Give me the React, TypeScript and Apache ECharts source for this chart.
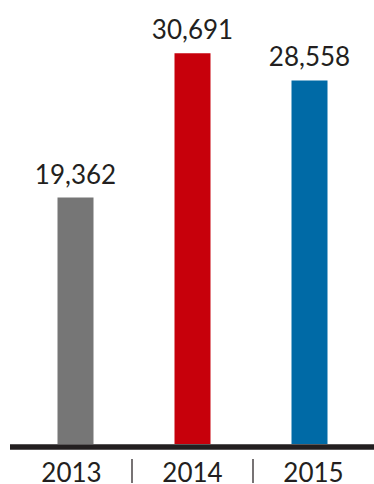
import React, { useEffect, useRef } from "react";
import * as echarts from "echarts";

const categories = ["2013", "2014", "2015"];
const values = [19362, 30691, 28558];
const barColors = ["#767676", "#c7000b", "#006aa6"];

const TEXT = "#231f20";
const FONT = "Lato, 'Noto Sans', sans-serif";

export default function App() {
  const ref = useRef<HTMLDivElement>(null);
  useEffect(() => {
    if (!ref.current) return;
    const chart = echarts.init(ref.current, null, { renderer: "svg" });
    chart.setOption({
      animation: false,
      backgroundColor: "#ffffff",
      grid: [
        { left: 17, top: 0, width: 351, height: 444, containLabel: false },
        { left: 11, top: 459, width: 365, height: 25, containLabel: false },
      ],
      xAxis: [
        {
          type: "category",
          gridIndex: 0,
          data: categories,
          axisLine: { show: false },
          axisTick: { show: false },
          axisLabel: { show: false },
        },
        {
          type: "category",
          gridIndex: 1,
          data: categories,
          position: "top",
          axisLine: { show: false },
          axisTick: { show: false },
          axisLabel: {
            show: true,
            inside: true,
            margin: 0,
            fontSize: 26,
            fontFamily: FONT,
            color: TEXT,
          },
          splitLine: {
            show: true,
            showMinLine: false,
            showMaxLine: false,
            lineStyle: { color: "#4a4546", width: 1.5 },
          },
        },
      ],
      yAxis: [
        { type: "value", gridIndex: 0, min: 0, max: 34880, show: false },
        { type: "value", gridIndex: 1, show: false },
      ],
      series: [
        {
          type: "bar",
          xAxisIndex: 0,
          yAxisIndex: 0,
          barWidth: 36,
          data: values.map((v, i) => ({ value: v, itemStyle: { color: barColors[i] } })),
          label: {
            show: true,
            position: "top",
            distance: 11,
            fontSize: 26,
            fontFamily: FONT,
            color: TEXT,
            formatter: (p: any) => Number(p.value).toLocaleString("en-US"),
          },
        },
      ],
      graphic: [
        {
          type: "line",
          z: 100,
          shape: { x1: 10, y1: 447, x2: 374, y2: 447 },
          style: { stroke: TEXT, lineWidth: 5.5 },
        },
      ],
    });
    return () => chart.dispose();
  }, []);
  return (
    <div
      ref={ref}
      style={{ position: "fixed", left: 0, top: 0, width: 374, height: 484 }}
    />
  );
}
